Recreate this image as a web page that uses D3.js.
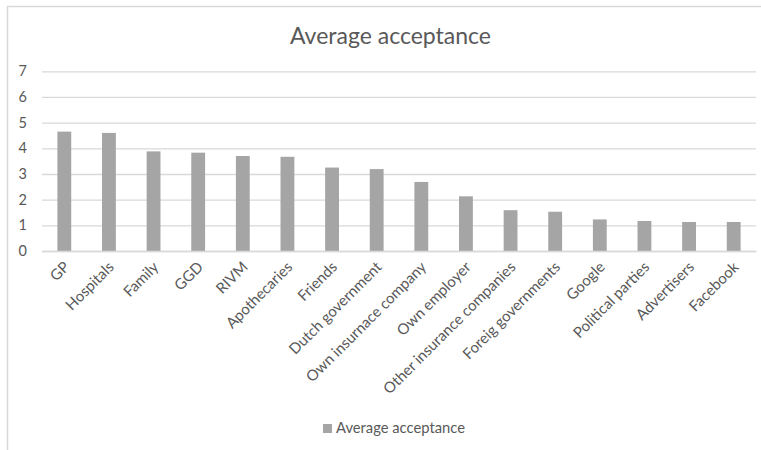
<!DOCTYPE html>
<html>
<head>
<meta charset="utf-8">
<script src="https://cdn.jsdelivr.net/npm/d3@7"></script>
<style>
  html, body { margin: 0; padding: 0; background: #fff; }
  svg { display: block; font-family: Lato, "Open Sans", sans-serif; }
</style>
</head>
<body>
<svg id="chart" width="761" height="450"></svg>
<script>
// Parties asked about, in order of average acceptance
const categories = [
  "GP", "Hospitals", "Family", "GGD", "RIVM", "Apothecaries", "Friends",
  "Dutch government", "Own insurnace company", "Own employer",
  "Other insurance companies", "Foreig governments", "Google",
  "Political parties", "Advertisers", "Facebook"
];
const acceptance = [
  4.65, 4.60, 3.88, 3.83, 3.70, 3.67, 3.25, 3.19, 2.69, 2.13,
  1.59, 1.53, 1.23, 1.17, 1.13, 1.13
];
const yTicks = [0, 1, 2, 3, 4, 5, 6, 7];
const seriesName = "Average acceptance";
const chartTitle = "Average acceptance";

const svg = d3.select("#chart");
const W = 761, H = 450;
const textColor = "#595959";
const barColor = "#a5a5a5";
const gridColor = "#d9d9d9";

// Chart frame (open toward the right and bottom edges)
svg.append("rect")
  .attr("x", 7.5).attr("y", 6.5)
  .attr("width", W + 10).attr("height", H + 10)
  .attr("fill", "#fff")
  .attr("stroke", gridColor)
  .attr("stroke-width", 1.5);

const plot = { left: 42, right: 756, top: 71.3, bottom: 251 };

const x = d3.scaleBand()
  .domain(categories)
  .range([plot.left, plot.right])
  .paddingInner(0.69)
  .paddingOuter(0.345);

const y = d3.scaleLinear()
  .domain([0, 7])
  .range([plot.bottom, plot.top]);

// Horizontal gridlines
const yAxis = d3.axisLeft(y)
  .tickValues(yTicks)
  .tickSize(-(plot.right - plot.left))
  .tickPadding(15)
  .tickFormat(d3.format("d"));

const gy = svg.append("g")
  .attr("transform", `translate(${plot.left},0)`)
  .call(yAxis);
gy.select(".domain").remove();
gy.selectAll(".tick line")
  .attr("stroke", gridColor)
  .attr("stroke-width", 1.3);
gy.selectAll(".tick text")
  .attr("fill", textColor)
  .style("font-size", "14.5px")
  .style("font-family", "Lato, 'Open Sans', sans-serif");

// Bars
svg.append("g")
  .selectAll("rect")
  .data(categories.map((c, i) => ({ c, v: acceptance[i] })))
  .join("rect")
  .attr("x", d => x(d.c))
  .attr("y", d => y(d.v))
  .attr("width", x.bandwidth())
  .attr("height", d => y(0) - y(d.v))
  .attr("fill", barColor);

// Category axis with rotated labels
const xAxis = d3.axisBottom(x).tickSize(0).tickPadding(0);
const gx = svg.append("g")
  .attr("transform", `translate(0,${plot.bottom})`)
  .call(xAxis);
gx.select(".domain")
  .attr("stroke", gridColor)
  .attr("stroke-width", 1.3);
gx.selectAll(".tick text")
  .attr("fill", textColor)
  .style("font-size", "15px")
  .style("font-family", "Lato, 'Open Sans', sans-serif")
  .attr("text-anchor", "end")
  .attr("dy", "0")
  .attr("transform", "translate(6,17) rotate(-45)");

// Title
svg.append("text")
  .attr("x", 390.5)
  .attr("y", 44)
  .attr("text-anchor", "middle")
  .attr("fill", textColor)
  .style("font-size", "23px")
  .text(chartTitle);

// Legend
const legend = svg.append("g").attr("transform", "translate(323,424)");
legend.append("rect")
  .attr("width", 9).attr("height", 9)
  .attr("fill", barColor);
legend.append("text")
  .attr("x", 13).attr("y", 9)
  .attr("fill", textColor)
  .style("font-size", "14.75px")
  .text(seriesName);
</script>
</body>
</html>
